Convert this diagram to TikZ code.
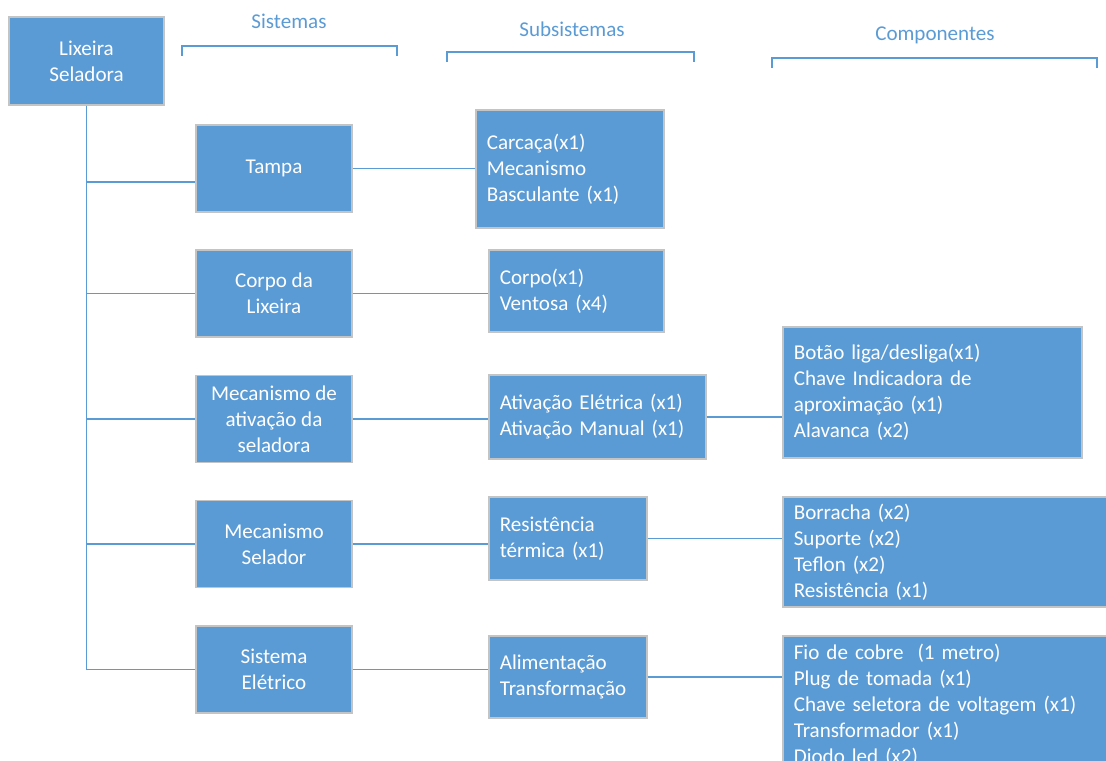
\documentclass[tikz,border=0pt]{standalone}
\usepackage{fontspec}
\setmainfont{Carlito}
\usepackage{tikz}
\usetikzlibrary{positioning}
\definecolor{OfficeBlue}{HTML}{5B9BD5}
\definecolor{EdgeGray}{HTML}{C4C4C4}

\begin{document}
\begin{tikzpicture}[
  x=0.02cm, y=-0.02cm,
  txt/.style={font=\fontsize{12}{14.8}\selectfont},
  sysbox/.style={txt, rectangle, draw=EdgeGray, line width=0.9pt, fill=OfficeBlue,
    text=white, align=center, minimum width=3.12cm, minimum height=1.74cm, inner sep=0pt},
  listbox/.style={txt, rectangle, draw=EdgeGray, line width=0.9pt, fill=OfficeBlue,
    text=white, align=left, anchor=west, inner xsep=0.22cm, inner ysep=0pt},
  head/.style={txt, text=OfficeBlue},
  line/.style={OfficeBlue, line width=1.1pt}
]
\useasboundingbox (0,0) rectangle (1106,761);

% column headers
\node[head] (hsis)  at (289,21) {Sistemas};
\node[head] (hsub)  at (572,29) {Subsistemas};
\node[head] (hcomp) at (935,35) {Componentes};
\draw[line] (182,56) -- (182,46) -- (397,46) -- (397,56);
\draw[line] (447,62) -- (447,52) -- (694,52) -- (694,62);
\draw[line] (772,68) -- (772,58) -- (1097,58) -- (1097,68);

% product and systems
\node[sysbox, minimum width=3.10cm, minimum height=1.76cm] (root) at (86.5,61) {Lixeira\\Seladora};
\node[sysbox] (tampa)    at (274,168.5) {Tampa};
\node[sysbox] (corpo)    at (274,293.5) {Corpo da\\Lixeira};
\node[sysbox] (ativ)     at (274,419)   {Mecanismo de\\ativação da\\seladora};
\node[sysbox] (selador)  at (274,544)   {Mecanismo\\Selador};
\node[sysbox] (eletrico) at (274,669.5) {Sistema\\Elétrico};

% subsystems
\node[listbox, text width=3.32cm, minimum height=2.36cm] (carcaca) at (475,169) {Carcaça(x1)\\Mecanismo\\Basculante (x1)};
\node[listbox, text width=3.06cm, minimum height=1.64cm] (corpox) at (488,291) {Corpo(x1)\\Ventosa (x4)};
\node[listbox, text width=3.90cm, minimum height=1.68cm] (ativx) at (488,417) {Ativação Elétrica (x1)\\Ativação Manual (x1)};
\node[listbox, text width=2.72cm, minimum height=1.66cm] (resist) at (488,538.5) {Resistência\\térmica (x1)};
\node[listbox, text width=2.72cm, minimum height=1.64cm] (alim) at (488,677) {Alimentação\\Transformação};

% components
\node[listbox, text width=5.54cm, minimum height=2.62cm] (botao) at (782,392.5) {Botão liga/desliga(x1)\\Chave Indicadora de\\aproximação (x1)\\Alavanca (x2)};
\node[listbox, text width=6.36cm, minimum height=2.20cm] (borracha) at (782,552) {Borracha (x2)\\Suporte (x2)\\Teflon (x2)\\Resistência (x1)};
\node[listbox, text width=6.36cm, minimum height=2.76cm] (fio) at (782,705) {Fio de cobre\ \ (1 metro)\\Plug de tomada (x1)\\Chave seletora de voltagem (x1)\\Transformador (x1)\\Diodo led (x2)};

% connectors
\draw[line] (root.south) |- ([yshift=-0.27cm]tampa.west);
\draw[line] (root.south) |- (corpo.west);
\draw[line] (root.south) |- (ativ.west);
\draw[line] (root.south) |- (selador.west);
\draw[line] (root.south) |- (eletrico.west);
\draw[line] (tampa.east) -- (tampa.east -| carcaca.west);
\draw[line] (corpo.east) -- (corpo.east -| corpox.west);
\draw[line] (ativ.east) -- (ativ.east -| ativx.west);
\draw[line] (selador.east) -- (selador.east -| resist.west);
\draw[line] (eletrico.east) -- (eletrico.east -| alim.west);
\draw[line] (ativx.east) -- (ativx.east -| botao.west);
\draw[line] (resist.east) -- (resist.east -| borracha.west);
\draw[line] (alim.east) -- (alim.east -| fio.west);
\end{tikzpicture}
\end{document}
